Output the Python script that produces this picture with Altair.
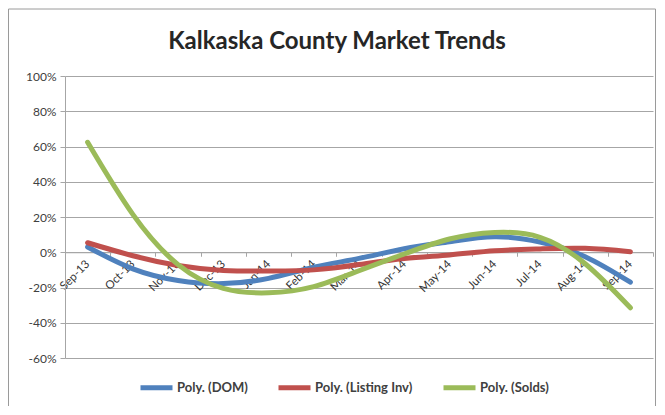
import altair as alt
import pandas as pd

# ---- data (percent) ----
months = ["Sep-13", "Oct-13", "Nov-13", "Dec-13", "Jan-14", "Feb-14", "Mar-14",
          "Apr-14", "May-14", "Jun-14", "Jul-14", "Aug-14", "Sep-14"]
dom = [3.0, -9.4, -16.0, -17.8, -14.8, -8.5, -3.5, 2.0, 6.0, 8.8, 5.8, -2.5, -17.0]
listing = [5.4, -2.0, -7.5, -10.3, -10.6, -10.0, -7.0, -3.5, -1.5, 0.8, 1.9, 2.2, 0.3]
solds = [62.4, 21.5, -7.0, -20.5, -23.0, -19.5, -10.5, -1.0, 7.5, 11.2, 8.5, -6.5, -31.5]
series_names = ["Poly. (DOM)", "Poly. (Listing Inv)", "Poly. (Solds)"]
colors = ["#4F81BD", "#C0504D", "#9BBB59"]
y_ticks = [-0.6, -0.4, -0.2, 0.0, 0.2, 0.4, 0.6, 0.8, 1.0]
title_text = "Kalkaska County Market Trends"

rows = []
for name, vals in zip(series_names, [dom, listing, solds]):
    for m, v in zip(months, vals):
        rows.append({"month": m, "value": v / 100.0, "series": name})
df = pd.DataFrame(rows)

W, H = 588, 282
y_min, y_max = -0.6, 1.0
zero_offset = H * (y_max - 0) / (y_max - y_min) - H  # move x axis up to 0%

FONT = "Lato"
GRID = "#a6a6a6"

lines = alt.Chart(df).mark_line(strokeWidth=5, interpolate="natural", strokeCap="round").encode(
    x=alt.X("month:N", sort=months,
            scale=alt.Scale(type="band", paddingInner=0, paddingOuter=0),
            axis=alt.Axis(title=None, labelAngle=-45, labelAlign="right", labelBaseline="middle",
                          offset=zero_offset, tickBand="extent", tickSize=4, labelPadding=6,
                          domainColor=GRID, tickColor=GRID, labelFont=FONT, labelFontSize=11.5,
                          labelColor="#333333", grid=False)),
    y=alt.Y("value:Q", scale=alt.Scale(domain=[y_min, y_max], nice=False, zero=False),
            axis=alt.Axis(title=None, format=".0%", values=y_ticks, tickSize=5, labelPadding=4,
                          labelExpr="replace(datum.label, '\u2212', '-')",
                          domainColor=GRID, tickColor=GRID, gridColor=GRID, labelFont=FONT,
                          labelFontSize=12, labelColor="#404040")),
    color=alt.Color("series:N", scale=alt.Scale(domain=series_names, range=colors),
                    legend=alt.Legend(title=None, orient="none", legendX=73, legendY=293,
                                      direction="horizontal", symbolType="stroke",
                                      symbolStrokeWidth=5, symbolSize=1024,
                                      labelFont=FONT, labelFontSize=13, labelFontWeight="bold",
                                      labelColor="#404040", columnPadding=20, labelOffset=2,
                                      padding=0)),
)

title = alt.Chart(alt.Data(values=[{"t": title_text}])).mark_text(
    font=FONT, fontSize=24, fontWeight="bold", color="#262626", align="center", baseline="middle"
).encode(text="t:N", x=alt.value(272), y=alt.value(-34))

one = alt.Data(values=[{"a": 1}])
border_left = alt.Chart(one).mark_rule(color="#9a9a9a", strokeWidth=1).encode(
    x=alt.value(-56.5), y=alt.value(-67), y2=alt.value(330))
border_top = alt.Chart(one).mark_rule(color="#9a9a9a", strokeWidth=1).encode(
    x=alt.value(-56.5), x2=alt.value(590.5), y=alt.value(-67))
border_right = alt.Chart(one).mark_rule(color="#9a9a9a", strokeWidth=1).encode(
    x=alt.value(590.5), y=alt.value(-67), y2=alt.value(330))

chart = alt.layer(border_left, border_top, border_right, title, lines).properties(
    width=W, height=H, padding=0, background="white"
).configure_view(stroke=None)

chart.save("out.html", embed_options={"renderer": "svg", "actions": False})
